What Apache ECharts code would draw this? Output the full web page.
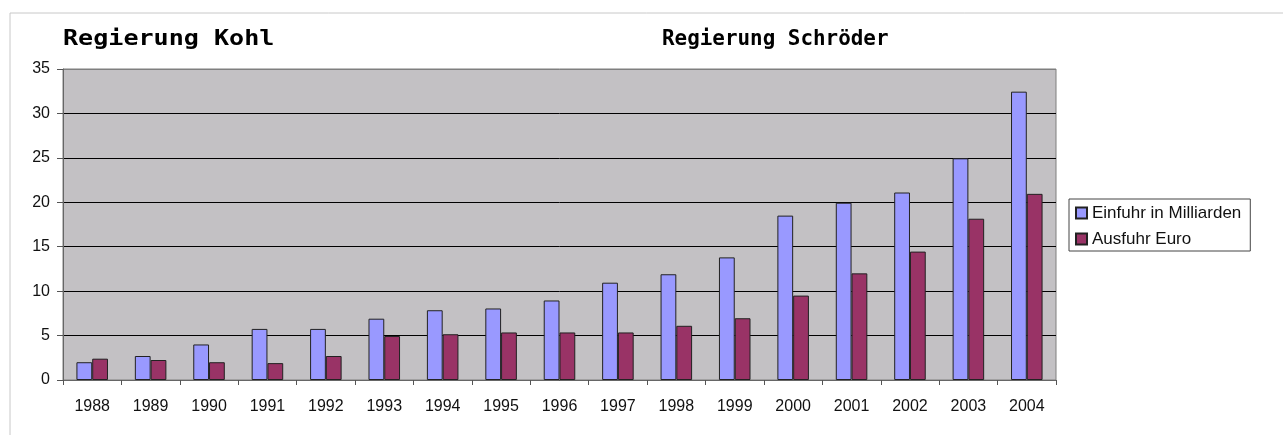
<!DOCTYPE html>
<html>
<head>
<meta charset="utf-8">
<script src="https://cdn.jsdelivr.net/npm/echarts@6/dist/echarts.min.js"></script>
<style>
  html, body { margin: 0; padding: 0; background: #fff; }
  #chart { width: 1283px; height: 435px; }
</style>
</head>
<body>
<div id="chart"></div>
<script>
const years = ["1988", "1989", "1990", "1991", "1992", "1993", "1994", "1995", "1996",
               "1997", "1998", "1999", "2000", "2001", "2002", "2003", "2004"];
const einfuhr = [2.0, 2.7, 4.0, 5.75, 5.75, 6.9, 7.85, 8.05, 8.95, 10.95, 11.9, 13.8, 18.5, 19.95, 21.1, 24.95, 32.45];
const ausfuhr = [2.4, 2.25, 2.0, 1.9, 2.7, 4.95, 5.15, 5.35, 5.35, 5.35, 6.1, 6.95, 9.5, 12.0, 14.45, 18.15, 20.95];
const seriesNames = ["Einfuhr in Milliarden", "Ausfuhr Euro"];

const chart = echarts.init(document.getElementById("chart"));

const labelFont = { fontFamily: "Liberation Sans", fontSize: 16, color: "#111" };

const option = {
    backgroundColor: "#fff",
    animation: false,
    grid: {
        left: 63,
        top: 69,
        right: 227,
        bottom: 55,
        show: true,
        backgroundColor: "#c3c1c4",
        borderColor: "#7f7f7f",
        borderWidth: 1
    },
    legend: {
        orient: "vertical",
        left: 1069,
        top: 199,
        padding: [4, 9, 2, 6],
        itemGap: 6,
        itemWidth: 11,
        itemHeight: 11,
        icon: "rect",
        borderColor: "#444",
        borderWidth: 1,
        backgroundColor: "#fff",
        textStyle: { fontFamily: "Liberation Sans", fontSize: 17, color: "#111", lineHeight: 20 },
        data: seriesNames
    },
    xAxis: {
        type: "category",
        data: years,
        axisLine: { lineStyle: { color: "#666", width: 1 } },
        axisTick: { show: true, length: 5, lineStyle: { color: "#555" } },
        axisLabel: { ...labelFont, margin: 19 },
        splitLine: { show: false }
    },
    yAxis: {
        type: "value",
        min: 0,
        max: 35,
        interval: 5,
        axisLine: { show: true, lineStyle: { color: "#666", width: 1 } },
        axisTick: { show: true, length: 6, lineStyle: { color: "#555" } },
        axisLabel: { ...labelFont, margin: 13 },
        // oberste Linie grau wie der Rahmen
        splitLine: { lineStyle: { color: ["#000", "#000", "#000", "#000", "#000", "#000", "#000", "#7f7f7f"], width: 1 } }
    },
    series: [
        {
            name: seriesNames[0],
            type: "bar",
            barWidth: "27%",
            barGap: "0%",
            itemStyle: { color: "#9999ff", borderColor: "#222", borderWidth: 1 },
            data: einfuhr
        },
        {
            name: seriesNames[1],
            type: "bar",
            barWidth: "27%",
            itemStyle: { color: "#993366", borderColor: "#222", borderWidth: 1 },
            data: ausfuhr
        }
    ],
    graphic: [
        // Rahmen links / oben
        { type: "line", shape: { x1: 10, y1: 13, x2: 1283, y2: 13 }, style: { stroke: "#c8c8c8", lineWidth: 1 }, silent: true },
        { type: "line", shape: { x1: 10, y1: 13, x2: 10, y2: 435 }, style: { stroke: "#c8c8c8", lineWidth: 1 }, silent: true },
        {
            type: "text", x: 63, y: 39, scaleX: 1.14,
            style: { text: "Regierung Kohl", font: "bold 22px 'DejaVu Sans Mono'", fill: "#000", textVerticalAlign: "middle" }
        },
        {
            type: "text", x: 662, y: 39, scaleX: 0.95,
            style: { text: "Regierung Schröder", font: "bold 22px 'DejaVu Sans Mono'", fill: "#000", textVerticalAlign: "middle" }
        }
    ]
};

chart.setOption(option);
window.addEventListener("resize", () => chart.resize());
</script>
</body>
</html>
